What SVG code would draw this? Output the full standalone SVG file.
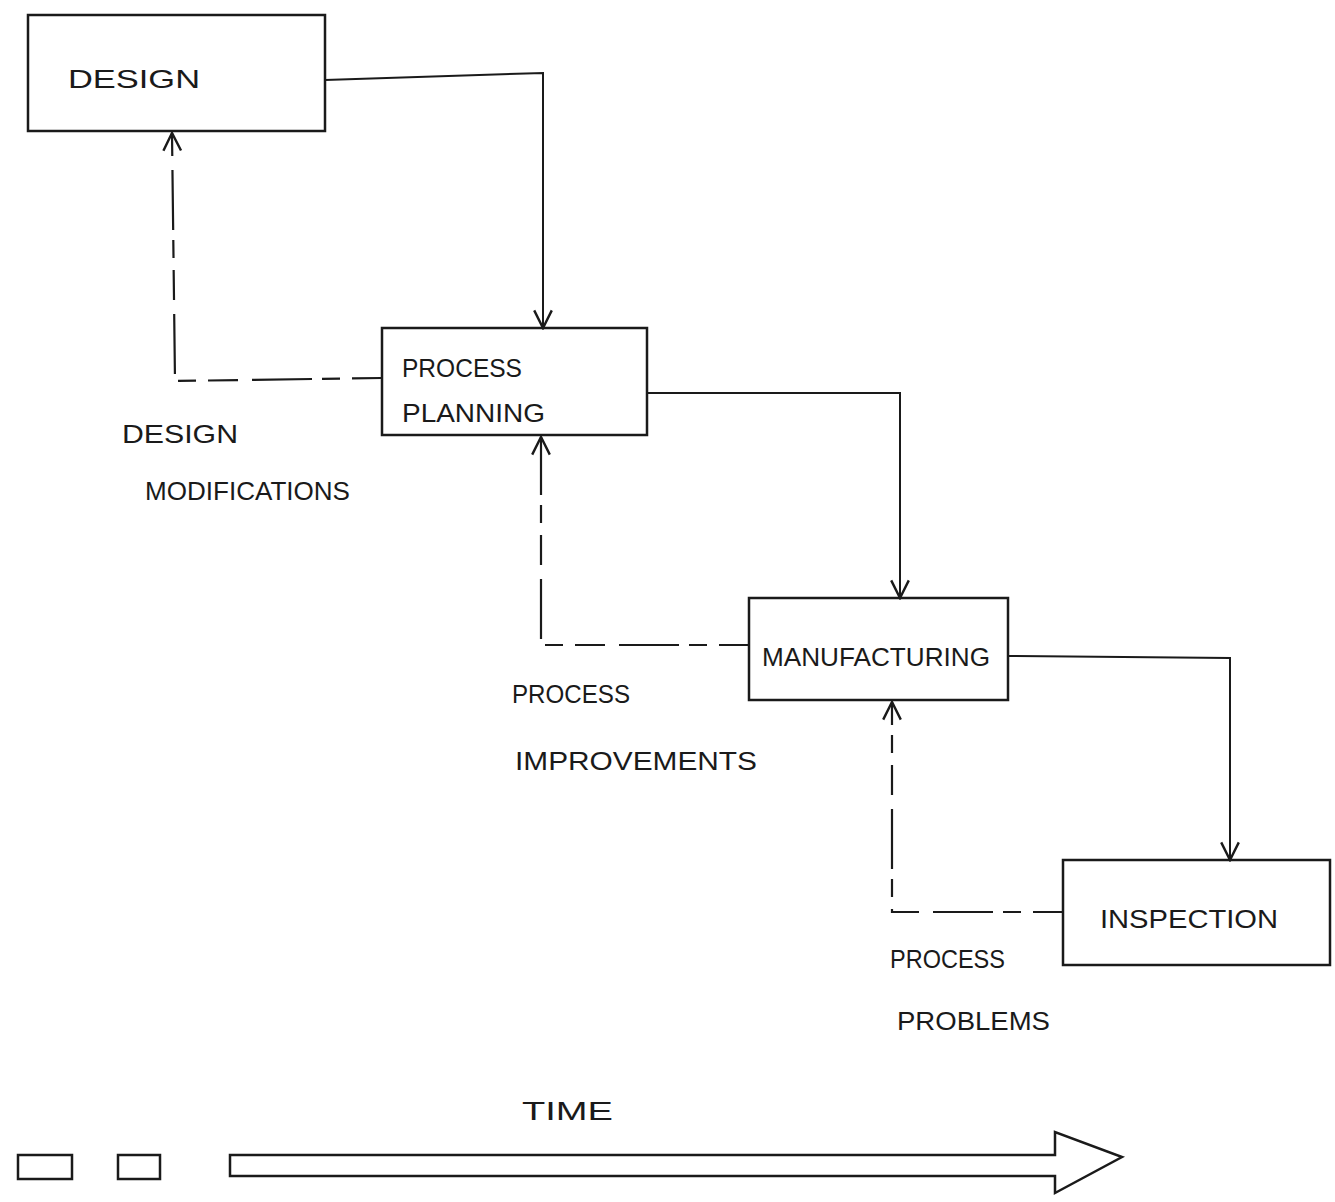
<svg xmlns="http://www.w3.org/2000/svg" width="1335" height="1202" viewBox="0 0 1335 1202">
<style>
.box{fill:none;stroke:#1a1a1a;stroke-width:2.5}
.ln{fill:none;stroke:#1a1a1a;stroke-width:2}
.dash{fill:none;stroke:#1a1a1a;stroke-width:2.2;stroke-dasharray:30 12 18 10 60 14}
.t{font-family:"Liberation Sans",Arial,sans-serif;font-size:26px;fill:#1a1a1a}
</style>
<defs>
<marker id="ah" viewBox="0 0 20 20" refX="18" refY="10" markerWidth="22" markerHeight="22" markerUnits="userSpaceOnUse" orient="auto">
<path d="M2,2 L18,10 L2,18" fill="none" stroke="#1a1a1a" stroke-width="2.2"/>
</marker>
</defs>
<rect width="1335" height="1202" fill="#fff"/>
<g id="design">
<rect class="box" x="28" y="15" width="297" height="116"/>
<text class="t" x="68" y="88" textLength="132" lengthAdjust="spacingAndGlyphs">DESIGN</text>
</g>
<g id="process-planning">
<rect class="box" x="382" y="328" width="265" height="107"/>
<text class="t" x="402" y="377" textLength="120" lengthAdjust="spacingAndGlyphs">PROCESS</text>
<text class="t" x="402" y="422" textLength="143" lengthAdjust="spacingAndGlyphs">PLANNING</text>
</g>
<g id="manufacturing">
<rect class="box" x="749" y="598" width="259" height="102"/>
<text class="t" x="762" y="666" textLength="228" lengthAdjust="spacingAndGlyphs">MANUFACTURING</text>
</g>
<g id="inspection">
<rect class="box" x="1063" y="860" width="267" height="105"/>
<text class="t" x="1100" y="928" textLength="178" lengthAdjust="spacingAndGlyphs">INSPECTION</text>
</g>
<g id="connectors">
<polyline class="ln" points="325,80 543,73 543,328" marker-end="url(#ah)"/>
<polyline class="dash" points="382,378 175,381 172,133" marker-end="url(#ah)"/>
<polyline class="ln" points="647,393 900,393 900,598" marker-end="url(#ah)"/>
<polyline class="dash" points="749,645 541,645 541,437" marker-end="url(#ah)"/>
<polyline class="ln" points="1008,656 1230,658 1230,860" marker-end="url(#ah)"/>
<polyline class="dash" points="1063,912 892,912 892,702" marker-end="url(#ah)"/>
</g>
<g id="labels">
<text class="t" x="122" y="443" textLength="116" lengthAdjust="spacingAndGlyphs">DESIGN</text>
<text class="t" x="145" y="500" textLength="205" lengthAdjust="spacingAndGlyphs">MODIFICATIONS</text>
<text class="t" x="512" y="703" textLength="118" lengthAdjust="spacingAndGlyphs">PROCESS</text>
<text class="t" x="515" y="770" textLength="242" lengthAdjust="spacingAndGlyphs">IMPROVEMENTS</text>
<text class="t" x="890" y="968" textLength="115" lengthAdjust="spacingAndGlyphs">PROCESS</text>
<text class="t" x="897" y="1030" textLength="153" lengthAdjust="spacingAndGlyphs">PROBLEMS</text>
<text class="t" x="522" y="1120" textLength="91" lengthAdjust="spacingAndGlyphs">TIME</text>
</g>
<g id="time-axis">
<rect class="box" x="18" y="1155" width="54" height="24"/>
<rect class="box" x="118" y="1155" width="42" height="24"/>
<path class="box" d="M230,1155 L1055,1155 L1055,1132 L1122,1157 L1055,1193 L1055,1176 L230,1176 Z"/>
</g>
</svg>
